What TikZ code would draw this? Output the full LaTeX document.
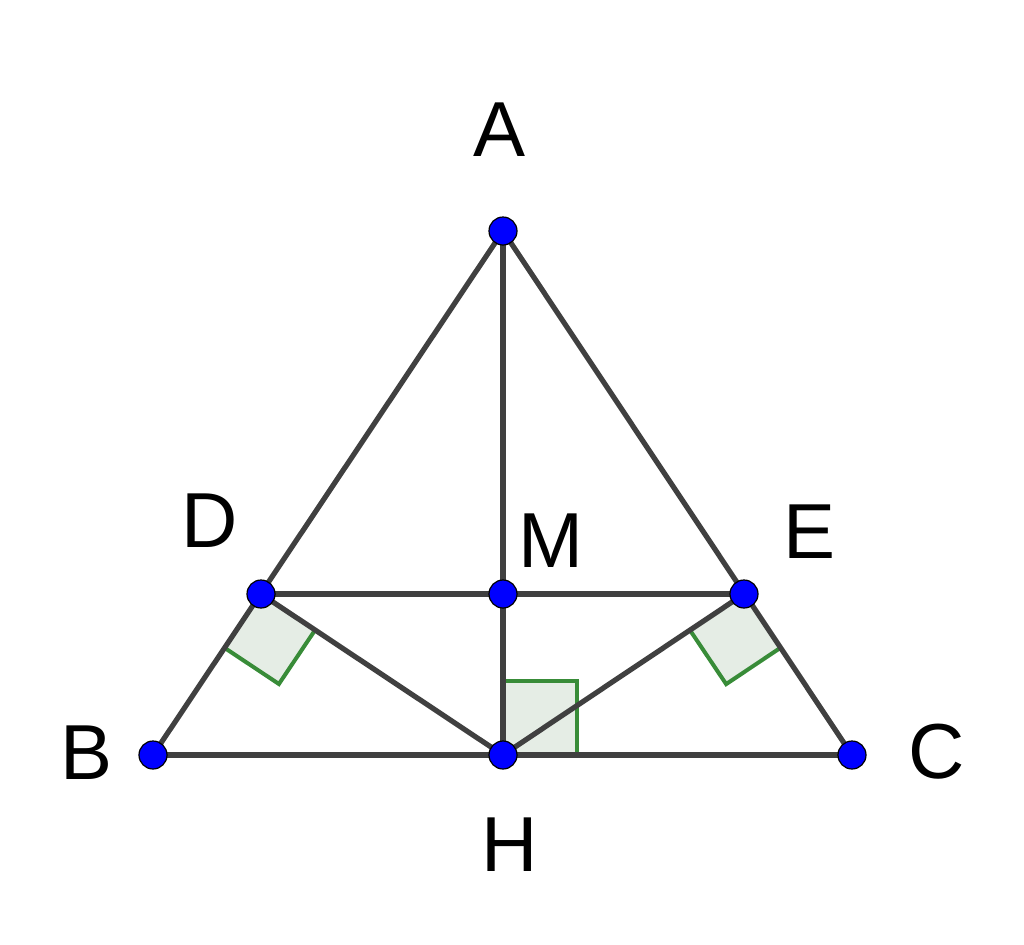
\documentclass[tikz,border=0pt]{standalone}
\usepackage{fontspec}
\setmainfont{Liberation Sans}
\usetikzlibrary{calc}
\definecolor{seg}{RGB}{64,64,64}
\definecolor{angcol}{RGB}{56,140,56}
\definecolor{angfill}{RGB}{229,237,229}
\tikzset{
  segline/.style={draw=seg,line width=2.6pt},
  rightang/.style={draw=angcol,line width=2pt,line join=miter},
  ptdot/.style={circle,fill=blue,draw=black,line width=0.6pt,minimum size=14pt,inner sep=0pt},
  lbl/.style={font=\fontsize{39}{39}\selectfont,inner sep=0pt,anchor=center}
}
\begin{document}
\begin{tikzpicture}[x=0.5pt,y=-0.5pt]
\useasboundingbox (0,0) rectangle (1024,944);
\coordinate (A) at (503,231);
\coordinate (B) at (153,755);
\coordinate (C) at (852,755);
\coordinate (H) at (503,755);
\coordinate (D) at (261,594);
\coordinate (E) at (744,594);
\coordinate (M) at (503,594);
% right angle marks
\coordinate (D1) at ($(D)!32.5pt!(B)$);
\coordinate (D2) at ($(D)!32.5pt!(H)$);
\coordinate (E1) at ($(E)!32.5pt!(C)$);
\coordinate (E2) at ($(E)!32.5pt!(H)$);
\coordinate (H1) at ($(H)!37pt!(A)$);
\coordinate (H2) at ($(H)!37pt!(C)$);
\fill[angfill] (D) -- (D1) -- ($(D1)+(D2)-(D)$) -- (D2) -- cycle;
\draw[rightang] (D1) -- ($(D1)+(D2)-(D)$) -- (D2);
\fill[angfill] (E) -- (E1) -- ($(E1)+(E2)-(E)$) -- (E2) -- cycle;
\draw[rightang] (E1) -- ($(E1)+(E2)-(E)$) -- (E2);
\fill[angfill] (H) -- (H1) -- ($(H1)+(H2)-(H)$) -- (H2) -- cycle;
\draw[rightang] (H1) -- ($(H1)+(H2)-(H)$) -- (H2);
% segments
\draw[segline] (A) -- (B);
\draw[segline] (A) -- (C);
\draw[segline] (B) -- (C);
\draw[segline] (A) -- (H);
\draw[segline] (D) -- (E);
\draw[segline] (D) -- (H);
\draw[segline] (E) -- (H);
% points
\foreach \p in {A,B,C,D,E,H,M} \node[ptdot] (dot\p) at (\p) {};
% labels
\node[lbl] (lA) at (500,130) {A};
\node[lbl] (lB) at (87,753) {B};
\node[lbl] (lC) at (937,752) {C};
\node[lbl] (lD) at (210,521) {D};
\node[lbl] (lE) at (810,532) {E};
\node[lbl] (lM) at (551,541) {M};
\node[lbl] (lH) at (510,845) {H};
\end{tikzpicture}
\end{document}
